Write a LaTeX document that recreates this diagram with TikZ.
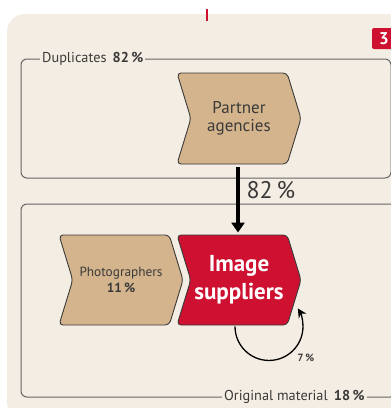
\documentclass[tikz,border=0pt]{standalone}
\usepackage{fontspec}
\setmainfont{PT Sans}
\usetikzlibrary{shapes.symbols,arrows.meta}
\definecolor{panel}{HTML}{F4EDE3}
\definecolor{tan}{HTML}{D4B48C}
\definecolor{brand}{HTML}{CE1130}
\definecolor{ink}{HTML}{3A3A3A}
\definecolor{frame}{HTML}{666666}
\tikzset{
  chev/.style={shape=signal, signal to=east, signal from=west,
    signal pointer angle=146, draw=ink, line width=0.9pt,
    rounded corners=4pt, minimum width=124pt, minimum height=91pt,
    inner sep=0pt, align=center, text=ink},
  groupbox/.style={draw=frame, line width=1pt, rounded corners=6pt},
  grouplabel/.style={fill=panel, inner xsep=2pt, inner ysep=1pt, text=ink,
    font=\fontsize{14.3}{16}\selectfont},
}
\begin{document}
\begin{tikzpicture}[x=1pt,y=-1pt]
\useasboundingbox (0,0) rectangle (391,408);
\clip (0,0) rectangle (391,408);
% background panel and marker tick
\fill[panel, rounded corners=18pt] (7,14) rectangle (410,420);
\draw[brand, line width=1.2pt] (207,9) -- (207,21);
% figure number badge
\node[fill=brand, rounded corners=2pt, minimum width=24pt, minimum height=21pt,
  inner sep=0pt, text=white, font=\fontsize{17}{17}\selectfont\bfseries]
  (badge) at (384,38.5) {3};
% group frames
\draw[groupbox] (21,59) rectangle (391,178);
\draw[groupbox] (21,204) rectangle (396,397);
\node[grouplabel, anchor=west] (duplbl) at (40,59) {Duplicates\, \textbf{82\,\%}};
\node[grouplabel, anchor=west] (origlbl) at (222,397) {Original material\, \textbf{18\,\%}};
% process steps
\node[chev, fill=tan, font=\fontsize{17}{17.5}\selectfont] (partner) at (239,118.5) {Partner\\agencies};
\node[chev, fill=tan, minimum height=90pt, font=\fontsize{13.3}{16.5}\selectfont] (photo) at (121,280) {Photographers\\\textbf{11\,\%}};
\node[chev, fill=brand, minimum height=90pt, text=white, font=\fontsize{23}{28}\selectfont\bfseries] (img) at (239,280) {Image\\suppliers};
% flow from partner agencies into image suppliers
\draw[line width=4.5pt, -{Triangle[width=13pt,length=10pt]}, shorten >=2pt]
  ([xshift=-1pt,yshift=-3pt]partner.south) -- ([xshift=-1pt]img.north);
\node[anchor=west, text=ink, font=\fontsize{24}{24}\selectfont] (pct) at (243,190) {82\,\%};
% share of material re-used by the suppliers themselves
\draw[line width=1.3pt, -{Stealth[width=9pt,length=9pt]}]
  ([xshift=-4pt,yshift=-1pt]img.south) arc[start angle=180, end angle=-32, radius=34];
\node[text=ink, font=\fontsize{10.5}{10.5}\selectfont\bfseries] (loop) at (306,358) {7\,\%};
\end{tikzpicture}
\end{document}
